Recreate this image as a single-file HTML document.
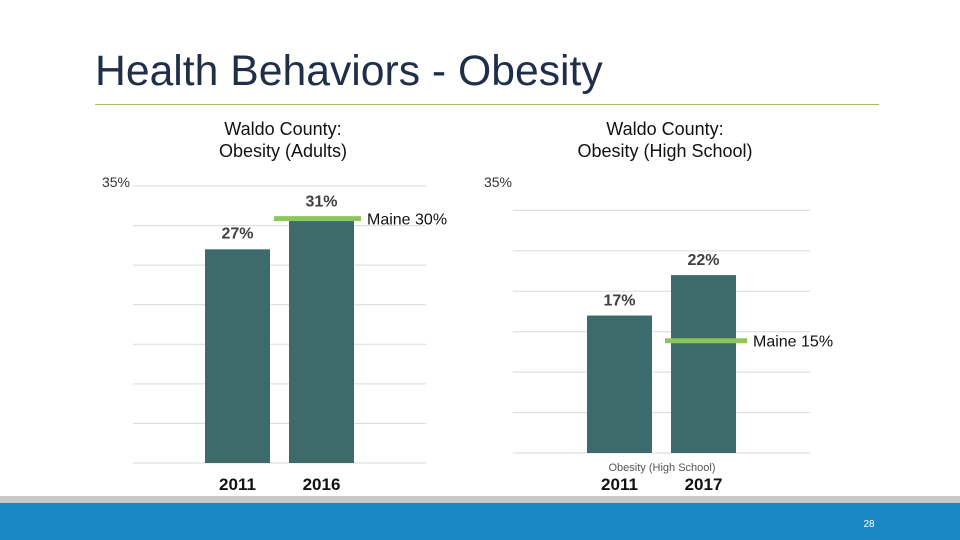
<!DOCTYPE html>
<html><head><meta charset="utf-8"><style>
body{margin:0;width:960px;height:540px;background:#fff;overflow:hidden;font-family:"Liberation Sans",sans-serif;position:relative}
</style></head><body>
<div style="position:absolute;left:95px;top:47px;font-size:42.7px;color:#1f2f4a;">Health Behaviors - Obesity</div>
<div style="position:absolute;left:95px;top:104px;width:784px;height:1px;background:#a9b96a"></div>
<svg id="c" width="960" height="540" style="position:absolute;left:0;top:0">
<rect x="0" y="496" width="960" height="7" fill="#c9c9c9"/>
<rect x="0" y="503" width="960" height="37" fill="#1a88c3"/>
<text x="869" y="527" font-size="10" fill="#fff" text-anchor="middle">28</text>
</svg>
<script>
const leftCats=["2011","2016"];
const leftVals=[27,31];
const leftMaine=30;
const rightCats=["2011","2017"];
const rightVals=[17,22];
const rightMaine=15;
const ticks=[0,5,10,15,20,25,30,35];
const svg=document.getElementById('c');
const NS="http://www.w3.org/2000/svg";
function mk(t,a,txt){const e=document.createElementNS(NS,t);for(const k in a)e.setAttribute(k,a[k]);if(txt!==undefined)e.textContent=txt;svg.appendChild(e);return e;}
function chart(o){
 const y=v=>o.y0-(o.y0-o.y35)*v/35;
 ticks.forEach((t,i)=>{
  if(o.skipTop&&t===35)return;
  const g=mk('line',{x1:o.x0,x2:o.x1,y1:y(t),y2:y(t),stroke:'#d9d9d9','stroke-width':1});
  
  
 });
 const tl=mk('text',{x:o.lblX,y:o.lblY,'font-size':14,fill:'#333','text-anchor':'end'},'35%');
 
 
 o.cats.forEach((c,i)=>{
  const cx=o.x0+o.first+i*o.gap;
  const b=mk('rect',{x:cx-32.5,y:y(o.vals[i]),width:65,height:y(0)-y(o.vals[i]),fill:'#3d6b6b'});
  
  
  const l=mk('text',{x:cx,y:y(o.vals[i])-o.lblOff,'font-size':16,'font-weight':'bold',fill:'#404040','text-anchor':'middle'},o.vals[i]+'%');
  
  
  const xl=mk('text',{x:cx,y:o.catY,'font-size':17,'font-weight':'bold',fill:'#111','text-anchor':'middle'},c);
  
  
 });
 const m=mk('line',{x1:o.mx1,x2:o.mx2,y1:y(o.maine)+o.mOff,y2:y(o.maine)+o.mOff,stroke:'#8dc65a','stroke-width':5});
 
 
 const mt=mk('text',{x:o.mx2+6,y:y(o.maine)+o.mOff+6,'font-size':16,fill:'#111'},'Maine '+o.maine+'%');
 
 
 const t1=mk('text',{x:o.tx,y:135,'font-size':18,fill:'#111','text-anchor':'middle'},'Waldo County:');
 
 
 const t2=mk('text',{x:o.tx,y:157,'font-size':18,fill:'#111','text-anchor':'middle'},o.sub);
 
 
}
chart({cats:leftCats,vals:leftVals,maine:leftMaine,x0:133,x1:426,y0:463,y35:186,first:104.5,gap:84,lblX:130,lblY:187,catY:490,mx1:274,mx2:361,mOff:-7,lblOff:11,tx:283,sub:'Obesity (Adults)',skipTop:false});
chart({cats:rightCats,vals:rightVals,maine:rightMaine,x0:513,x1:810,y0:453,y35:170,first:106.5,gap:84,lblX:512,lblY:187,catY:490,mx1:665,mx2:747,mOff:9,lblOff:10,tx:665,sub:'Obesity (High School)',skipTop:true});
const ax=mk('text',{x:662,y:471,'font-size':11,fill:'#555','text-anchor':'middle'},'Obesity (High School)');


</script>
</body></html>
